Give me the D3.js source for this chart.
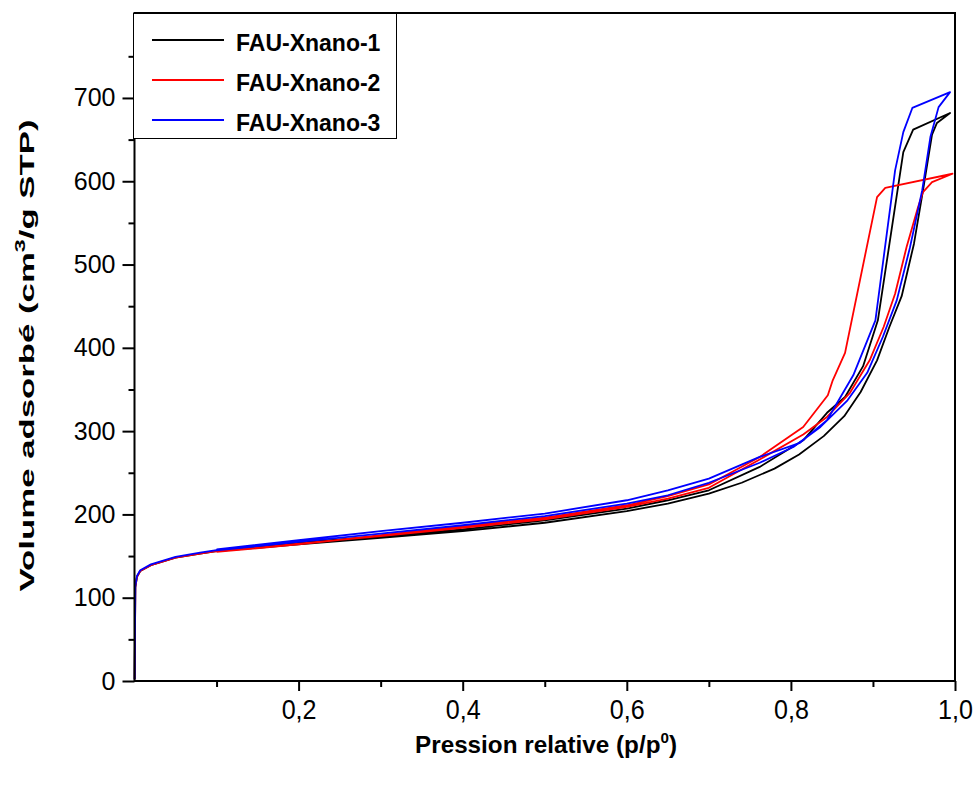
<!DOCTYPE html>
<html>
<head>
<meta charset="utf-8">
<script src="https://cdn.jsdelivr.net/npm/d3@7"></script>
<style>
  html, body { margin: 0; padding: 0; background: #fff; }
  svg { display: block; }
  text { font-family: "Liberation Sans", Arial, sans-serif; fill: #000; }
</style>
</head>
<body>
<svg id="chart" width="976" height="785"></svg>
<script>
// ---------------- DATA ----------------
const seriesNames = ["FAU-Xnano-1", "FAU-Xnano-2", "FAU-Xnano-3"];
const seriesColors = ["#000000", "#ff0000", "#0000ff"];

// FAU-Xnano-1 adsorption / desorption
const p1Ads = [0.0002, 0.001, 0.003, 0.007, 0.02, 0.05, 0.08, 0.1, 0.15, 0.2, 0.3, 0.4, 0.5, 0.6, 0.65, 0.7, 0.74, 0.78, 0.81, 0.84, 0.865, 0.885, 0.905, 0.92, 0.935, 0.95, 0.961, 0.972, 0.978, 0.994];
const v1Ads = [2, 112, 125, 132, 139, 148, 153, 156, 160, 164, 172, 180, 190, 204, 213, 225, 238, 255, 272, 294, 318, 347, 385, 425, 462, 525, 589, 656, 670, 682];
const p1Des = [0.994, 0.949, 0.937, 0.906, 0.888, 0.866, 0.844, 0.815, 0.762, 0.7, 0.65, 0.6, 0.5, 0.4, 0.3, 0.2, 0.1];
const v1Des = [682, 662, 635, 433, 378, 341, 322, 289, 257, 229, 217, 207, 193, 182, 174, 166, 157];

// FAU-Xnano-2 adsorption / desorption
const p2Ads = [0.0002, 0.001, 0.003, 0.007, 0.02, 0.05, 0.08, 0.1, 0.15, 0.2, 0.3, 0.4, 0.5, 0.6, 0.65, 0.7, 0.762, 0.815, 0.844, 0.872, 0.896, 0.913, 0.927, 0.941, 0.955, 0.961, 0.972, 0.997];
const v2Ads = [2, 113, 125, 132, 139, 148, 153, 156, 160, 165, 174, 184, 194, 209, 219, 232, 266, 296, 317, 346, 385, 425, 465, 521, 569, 587, 599, 609];
const p2Des = [0.997, 0.915, 0.905, 0.866, 0.851, 0.845, 0.815, 0.762, 0.7, 0.65, 0.6, 0.5, 0.4, 0.3, 0.2, 0.1];
const v2Des = [609, 592, 581, 394, 361, 343, 305, 269, 236, 222, 211, 196, 186, 175, 164, 155];

// FAU-Xnano-3 adsorption / desorption
const p3Ads = [0.0002, 0.001, 0.003, 0.007, 0.02, 0.05, 0.08, 0.1, 0.15, 0.2, 0.3, 0.4, 0.5, 0.6, 0.65, 0.7, 0.762, 0.803, 0.836, 0.869, 0.893, 0.912, 0.929, 0.945, 0.96, 0.97, 0.98, 0.994];
const v3Ads = [2, 114, 126, 133, 140, 149, 154, 157, 162, 167, 177, 187, 198, 213, 223, 238, 262, 281, 305, 337, 370, 413, 457, 520, 589, 653, 689, 707];
const p3Des = [0.994, 0.948, 0.937, 0.927, 0.903, 0.876, 0.844, 0.811, 0.762, 0.7, 0.65, 0.6, 0.5, 0.4, 0.3, 0.2, 0.1];
const v3Des = [707, 688, 659, 613, 433, 367, 313, 286, 269, 243, 229, 217, 201, 190, 180, 169, 158];

const xTickValues = [0.2, 0.4, 0.6, 0.8, 1.0];
const xTickLabels = ["0,2", "0,4", "0,6", "0,8", "1,0"];
const xMinorTicks = [0.1, 0.3, 0.5, 0.7, 0.9];
const yTickValues = [0, 100, 200, 300, 400, 500, 600, 700];
const yMinorTicks = [50, 150, 250, 350, 450, 550, 650, 750];

const xTitle = "Pression relative (p/p";
const yTitle = "Volume adsorbé (cm";

// ---------------- CHART ----------------
const svg = d3.select("#chart");
const mLeft = 134.5, mRight = 955, mTop = 13, mBottom = 681;

const x = d3.scaleLinear().domain([0, 1]).range([mLeft, mRight]);
const y = d3.scaleLinear().domain([0, 802]).range([mBottom, mTop]);

const series = [
  { ads: [p1Ads, v1Ads], des: [p1Des, v1Des] },
  { ads: [p2Ads, v2Ads], des: [p2Des, v2Des] },
  { ads: [p3Ads, v3Ads], des: [p3Des, v3Des] }
];

const line = d3.line().x(d => x(d[0])).y(d => y(d[1]));

series.forEach((s, i) => {
  const pts = s.ads[0].map((p, k) => [p, s.ads[1][k]])
    .concat(s.des[0].map((p, k) => [p, s.des[1][k]]));
  svg.append("path")
    .datum(pts)
    .attr("d", line)
    .attr("fill", "none")
    .attr("stroke", seriesColors[i])
    .attr("stroke-width", 1.8)
    .attr("stroke-linejoin", "round");
});

// axes
const xAxis = svg.append("g").attr("transform", `translate(0,${mBottom})`)
  .call(d3.axisBottom(x).tickValues(xTickValues).tickSize(10).tickPadding(9).tickFormat((d, i) => xTickLabels[i]));
const xMinor = svg.append("g").attr("transform", `translate(0,${mBottom})`)
  .call(d3.axisBottom(x).tickValues(xMinorTicks).tickSize(6).tickFormat(""));
const yAxis = svg.append("g").attr("transform", `translate(${mLeft},0)`)
  .call(d3.axisLeft(y).tickValues(yTickValues).tickSize(12).tickPadding(7).tickFormat(d3.format("d")));
const yMinor = svg.append("g").attr("transform", `translate(${mLeft},0)`)
  .call(d3.axisLeft(y).tickValues(yMinorTicks).tickSize(6).tickFormat(""));

[xAxis, xMinor, yAxis, yMinor].forEach(g => {
  g.select(".domain").remove();
  g.selectAll(".tick line").attr("stroke", "#000").attr("stroke-width", 2);
});
xAxis.attr("font-size", 27);
xAxis.selectAll(".tick text")
  .attr("font-size", 27).attr("dy", "0.72em")
  .attr("font-family", "'Liberation Sans', Arial, sans-serif")
  .attr("transform", "scale(0.93,1)");
yAxis.attr("font-size", 25);
yAxis.selectAll(".tick text").attr("font-size", 25)
  .attr("font-family", "'Liberation Sans', Arial, sans-serif");

// frame
svg.append("rect")
  .attr("x", mLeft).attr("y", mTop)
  .attr("width", mRight - mLeft).attr("height", mBottom - mTop)
  .attr("fill", "none").attr("stroke", "#000").attr("stroke-width", 2);

// axis titles
const xt = svg.append("text")
  .attr("x", 546).attr("y", 753)
  .attr("text-anchor", "middle").attr("font-size", 24).attr("font-weight", "bold")
  .attr("textLength", 262).attr("lengthAdjust", "spacingAndGlyphs");
xt.append("tspan").text(xTitle);
xt.append("tspan").attr("dy", -10).attr("font-size", 15).text("0");
xt.append("tspan").attr("dy", 10).text(")");

const yt = svg.append("text")
  .attr("transform", `translate(34,355.5) rotate(-90)`)
  .attr("text-anchor", "middle").attr("font-size", 21).attr("font-weight", "bold")
  .attr("textLength", 472).attr("lengthAdjust", "spacingAndGlyphs");
yt.append("tspan").text(yTitle);
yt.append("tspan").attr("dy", -9).attr("font-size", 14).text("3");
yt.append("tspan").attr("dy", 9).text("/g STP)");

// legend
const lg = svg.append("g");
lg.append("rect")
  .attr("x", 133.5).attr("y", 13.5).attr("width", 263).attr("height", 125)
  .attr("fill", "#fff").attr("stroke", "#000").attr("stroke-width", 1);
seriesNames.forEach((name, i) => {
  const ly = 40 + i * 40;
  lg.append("line").attr("x1", 152).attr("x2", 224).attr("y1", ly).attr("y2", ly)
    .attr("stroke", seriesColors[i]).attr("stroke-width", 1.8);
  lg.append("text").attr("x", 236).attr("y", ly + 11)
    .attr("font-size", 23).attr("font-weight", "bold").text(name);
});
</script>
</body>
</html>
